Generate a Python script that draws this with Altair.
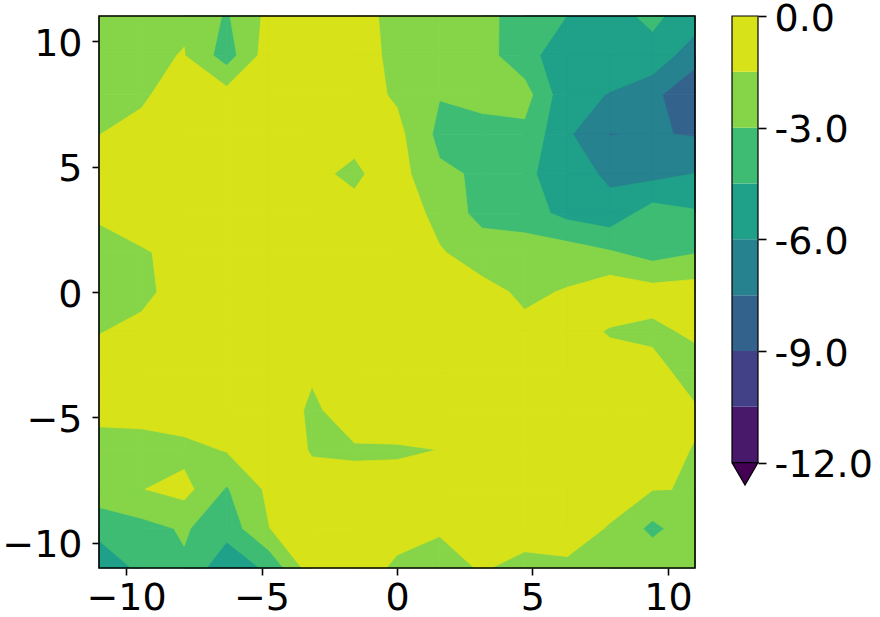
import altair as alt
import pandas as pd

# ---------------- data ----------------
x_grid = [-11.0, -9.43, -7.86, -6.29, -4.71, -3.14, -1.57, 0.0,
          1.57, 3.14, 4.71, 6.29, 7.86, 9.43, 11.0]
# rows listed from top (y = 11) to bottom (y = -11)
y_grid = [11.0, 9.43, 7.86, 6.29, 4.71, 3.14, 1.57, 0.0,
          -1.57, -3.14, -4.71, -6.29, -7.86, -9.43, -11.0]

z_rows = [
    [-2.4, -2.5, -1.7, -3.17, -1.1, -0.8, -1.0, -1.89, -2.2, -2.67, -3.5, -4.52, -4.82, -4.3, -5.01],
    [-2.3, -1.74, -1.45, -3.72, -0.68, -0.7, -0.9, -1.84, -2.3, -2.40, -3.95, -5.49, -5.4, -4.81, -7.08],
    [-2.0, -1.73, -0.7, -0.91, -0.6, -0.6, -0.8, -1.71, -2.93, -2.6, -2.38, -5.64, -6.05, -7.24, -8.35],
    [-1.52, -1.05, -0.6, -0.6, -0.6, -0.7, -1.19, -1.07, -3.4, -3.45, -3.40, -5.77, -7.55, -7.39, -7.614],
    [-1.0, -0.7, -0.6, -0.6, -0.7, -1.28, -1.7, -0.9, -2.74, -3.2, -4.21, -5.26, -6.30, -6.48, -5.98],
    [-1.31, -0.9, -0.6, -0.5, -0.5, -0.8, -1.19, -0.5, -2.0, -3.5, -3.8, -4.96, -5.47, -3.80, -4.336],
    [-2.0, -1.61, -1.17, -0.5, -0.5, -0.6, -0.8, -0.7, -1.37, -2.18, -2.2, -2.24, -2.85, -3.6, -3.07],
    [-2.0, -1.8, -0.97, -0.5, -0.5, -0.5, -0.6, -0.6, -0.8, -1.06, -1.75, -1.40, -0.5, -0.9, -0.76],
    [-1.55, -1.2, -0.6, -0.5, -0.5, -0.5, -0.5, -0.5, -0.6, -0.8, -1.19, -0.91, -1.62, -1.81, -1.254],
    [-0.93, -0.6, -0.5, -0.5, -0.5, -1.33, -0.6, -0.5, -0.5, -0.5, -0.6, -0.6, -0.89, -1.05, -2.1],
    [-1.14, -0.9, -0.5, -0.6, -0.5, -1.75, -0.79, -0.6, -0.5, -0.5, -0.5, -0.5, -0.6, -0.8, -1.367],
    [-2.0, -2.18, -2.0, -1.40, -0.7, -1.59, -1.65, -1.65, -1.49, -0.9, -0.7, -0.6, -0.6, -1.18, -1.544],
    [-2.0, -1.55, -1.0, -3.13, -1.17, -1.09, -1.13, -1.05, -0.8, -0.6, -0.6, -0.6, -0.9, -1.45, -1.56],
    [-4.17, -3.51, -2.84, -3.9, -1.52, -0.7, -0.7, -0.95, -1.3, -0.8, -0.6, -0.9, -1.6, -3.4, -1.97],
    [-5.27, -4.25, -3.2, -5.66, -4.15, -0.66, -0.7, -1.77, -2.3, -1.32, -2.14, -1.745, -2.0, -1.73, -2.0],
]

levels = [-12.0, -10.5, -9.0, -7.5, -6.0, -4.5, -3.0, -1.5, 0.0]
band_names = ["b1", "b2", "b3", "b4", "b5", "b6", "b7", "b8"]
band_colors = ["#48186a", "#424086", "#33638d", "#26828e",
               "#1fa088", "#3fbc73", "#86d549", "#d8e219"]
under_color = "#440154"
axis_ticks = [-10, -5, 0, 5, 10]
cbar_ticks = [0, -3, -6, -9, -12]
extend_frac = 0.05

FONT = "DejaVu Sans"


# ---------------- filled contours (marching squares, linear edges) ----------------
def crossing(a, b, L):
    t = (L - a[2]) / (b[2] - a[2])
    return (a[0] + t * (b[0] - a[0]), a[1] + t * (b[1] - a[1]))


def cell_polygons(c, L):
    above = [p[2] >= L for p in c]
    saddle = above in ([True, False, True, False], [False, True, False, True])
    if saddle and sum(p[2] for p in c) / 4.0 < L:
        out = []
        for k in range(4):
            if above[k]:
                prev, cur, nxt = c[k - 1], c[k], c[(k + 1) % 4]
                out.append([crossing(prev, cur, L), (cur[0], cur[1]), crossing(cur, nxt, L)])
        return out
    pts = []
    for k in range(4):
        a, b = c[k], c[(k + 1) % 4]
        if above[k]:
            pts.append((a[0], a[1]))
        if above[k] != above[(k + 1) % 4]:
            pts.append(crossing(a, b, L))
    return [pts]


records = []
pid = 0
for j in range(len(y_grid) - 1):
    for i in range(len(x_grid) - 1):
        c = [(x_grid[i], y_grid[j], z_rows[j][i]),
             (x_grid[i + 1], y_grid[j], z_rows[j][i + 1]),
             (x_grid[i + 1], y_grid[j + 1], z_rows[j + 1][i + 1]),
             (x_grid[i], y_grid[j + 1], z_rows[j + 1][i])]
        zs = [p[2] for p in c]
        zmin, zmax = min(zs), max(zs)
        k0 = max([k for k in range(len(band_names)) if levels[k] <= zmin], default=0)
        for k in range(k0, len(band_names)):
            if k > k0 and levels[k] > zmax:
                break
            polys = [[(p[0], p[1]) for p in c]] if k == k0 else cell_polygons(c, levels[k])
            for poly in polys:
                pts = poly + [poly[0]]
                for o, (px, py) in enumerate(pts):
                    records.append({"pid": pid, "ord": o, "x": px, "y": py, "band": band_names[k]})
                pid += 1

df = pd.DataFrame(records)

color_scale = alt.Scale(domain=band_names, range=band_colors)

x_scale = alt.Scale(domain=[x_grid[0], x_grid[-1]], nice=False, zero=False)
y_scale = alt.Scale(domain=[y_grid[-1], y_grid[0]], nice=False, zero=False)
x_axis = alt.Axis(values=axis_ticks, title=None, tickSize=7, labelPadding=4,
                  labelFlush=False, labelOverlap=False)
y_axis = alt.Axis(values=axis_ticks, title=None, tickSize=7, labelPadding=10,
                  labelOffset=3, labelFlush=False, labelOverlap=False)

layers = []
for b in band_names:
    sub = df[df["band"] == b]
    if sub.empty:
        continue
    layers.append(
        alt.Chart(sub).mark_line(filled=True, strokeWidth=0.8, strokeJoin="round").encode(
            x=alt.X("x:Q", scale=x_scale, axis=x_axis),
            y=alt.Y("y:Q", scale=y_scale, axis=y_axis),
            detail="pid:N",
            order="ord:Q",
            color=alt.Color("band:N", scale=color_scale, legend=None),
            stroke=alt.Stroke("band:N", scale=color_scale, legend=None),
        )
    )

frame_df = pd.DataFrame({"x0": [x_grid[0]], "x1": [x_grid[-1]],
                         "y0": [y_grid[-1]], "y1": [y_grid[0]]})
frame = alt.Chart(frame_df).mark_rect(filled=False, color="black", strokeWidth=1.6).encode(
    x=alt.X("x0:Q", scale=x_scale, axis=x_axis), x2="x1:Q",
    y=alt.Y("y0:Q", scale=y_scale, axis=y_axis), y2="y1:Q",
)
layers.append(frame)

main = alt.layer(*layers).properties(width=596, height=552)

# ---------------- colorbar ----------------
ext = extend_frac * (levels[-1] - levels[0])
cb_scale_y = alt.Scale(domain=[levels[0] - ext, levels[-1]], nice=False, zero=False)
cb_scale_x = alt.Scale(domain=[0, 1], nice=False, zero=False)
cb_axis = alt.Axis(orient="right", values=cbar_ticks, labelExpr="datum.value + '.0'",
                   title=None, tickSize=8, labelPadding=8, labelOffset=3,
                   labelFlush=False, labelOverlap=False)

cb_df = pd.DataFrame({"lo": levels[:-1], "hi": levels[1:], "band": band_names})
bars = alt.Chart(cb_df).mark_rect().encode(
    x=alt.XDatum(0, scale=cb_scale_x, axis=None), x2=alt.X2Datum(1),
    y=alt.Y("lo:Q", scale=cb_scale_y, axis=cb_axis), y2="hi:Q",
    color=alt.Color("band:N", scale=color_scale, legend=None),
)
outline_df = pd.DataFrame({"lo": [levels[0]], "hi": [levels[-1]]})
outline = alt.Chart(outline_df).mark_rect(filled=False, color="black", strokeWidth=1.2).encode(
    x=alt.XDatum(0, scale=cb_scale_x, axis=None), x2=alt.X2Datum(1),
    y=alt.Y("lo:Q", scale=cb_scale_y, axis=cb_axis), y2="hi:Q",
)
tri_df = pd.DataFrame({"cx": [0, 1, 0.5, 0],
                       "cy": [levels[0], levels[0], levels[0] - ext, levels[0]],
                       "ord": [0, 1, 2, 3]})
tri = alt.Chart(tri_df).mark_line(filled=True, fill=under_color, stroke="black",
                                  strokeWidth=1.2, strokeJoin="miter").encode(
    x=alt.X("cx:Q", scale=cb_scale_x, axis=None),
    y=alt.Y("cy:Q", scale=cb_scale_y, axis=cb_axis),
    order="ord:Q",
)
colorbar = alt.layer(bars, outline, tri).properties(width=26, height=469)

chart = alt.hconcat(main, colorbar, spacing=37, bounds="flush").properties(
    padding={"left": 1, "top": 0, "right": 4, "bottom": 0}
).configure_view(
    strokeWidth=0
).configure_axis(
    labelFont=FONT, labelFontSize=38, labelColor="black",
    tickColor="black", tickWidth=1.6, domain=False, grid=False,
)

chart.save("out.html", embed_options={"renderer": "svg", "actions": False})
